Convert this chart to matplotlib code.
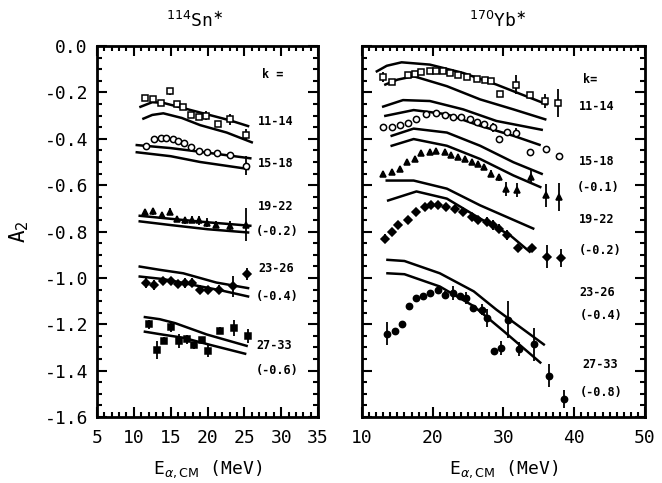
import numpy as np
import matplotlib.pyplot as plt
from matplotlib.ticker import MultipleLocator

plt.rcParams['font.family'] = ['DejaVu Sans Mono', 'DejaVu Sans']
plt.rcParams['axes.unicode_minus'] = False

# ---- 114Sn* (left panel) ----
sn_e_1 = [11.5, 12.6, 13.7, 14.9, 15.8, 16.7, 17.7, 18.8, 19.8, 21.4, 23.1, 25.2]
sn_a_1 = [-0.223, -0.227, -0.247, -0.194, -0.251, -0.261, -0.297, -0.304, -0.301, -0.337, -0.316, -0.384]
sn_d_1 = [0.01, 0.01, 0.01, 0.015, 0.01, 0.01, 0.01, 0.01, 0.02, 0.01, 0.025, 0.025]
sn_fa_e_1 = [10.9, 12.5, 14.0, 17.0, 20.0, 23.0, 25.5]
sn_fa_a_1 = [-0.262, -0.242, -0.245, -0.27, -0.295, -0.32, -0.345]
sn_fb_e_1 = [11.3, 12.5, 14.0, 16.5, 19.0, 22.6, 26.0]
sn_fb_a_1 = [-0.313, -0.297, -0.29, -0.31, -0.341, -0.373, -0.415]

sn_e_2 = [11.7, 12.8, 13.7, 14.4, 15.3, 16.0, 16.8, 17.7, 18.8, 19.9, 21.3, 23.0, 25.2]
sn_a_2 = [-0.43, -0.401, -0.398, -0.398, -0.40, -0.408, -0.418, -0.437, -0.451, -0.459, -0.462, -0.47, -0.516]
sn_d_2 = [0.01, 0.015, 0.01, 0.01, 0.01, 0.01, 0.01, 0.015, 0.01, 0.01, 0.01, 0.01, 0.04]
sn_fa_e_2 = [10.4, 15.0, 20.0, 25.8]
sn_fa_a_2 = [-0.427, -0.44, -0.46, -0.484]
sn_fb_e_2 = [10.4, 15.0, 19.0, 25.5]
sn_fb_a_2 = [-0.458, -0.475, -0.50, -0.53]

sn_e_3 = [11.5, 12.6, 13.8, 14.9, 15.9, 16.9, 17.9, 18.8, 19.9, 21.2, 23.0, 25.2]
sn_a_3 = [-0.715, -0.713, -0.727, -0.715, -0.744, -0.752, -0.75, -0.752, -0.761, -0.77, -0.775, -0.77]
sn_d_3 = [0.01, 0.015, 0.01, 0.015, 0.01, 0.015, 0.015, 0.02, 0.02, 0.015, 0.02, 0.07]
sn_fa_e_3 = [10.8, 15.0, 20.0, 25.8]
sn_fa_a_3 = [-0.732, -0.745, -0.76, -0.775]
sn_fb_e_3 = [10.8, 15.0, 20.0, 25.5]
sn_fb_a_3 = [-0.756, -0.772, -0.79, -0.804]

sn_e_4 = [11.7, 12.8, 14.0, 15.0, 16.0, 16.9, 17.9, 19.0, 20.1, 21.5, 23.5, 25.4]
sn_a_4 = [-1.022, -1.03, -1.015, -1.012, -1.027, -1.022, -1.02, -1.051, -1.051, -1.051, -1.037, -0.984]
sn_d_4 = [0.02, 0.02, 0.015, 0.015, 0.015, 0.02, 0.02, 0.02, 0.015, 0.02, 0.045, 0.025]
sn_fa_e_4 = [10.8, 13.5, 16.7, 21.2, 25.5]
sn_fa_a_4 = [-0.951, -0.965, -0.98, -1.02, -1.044]
sn_fb_e_4 = [10.8, 14.0, 18.0, 22.0, 25.5]
sn_fb_a_4 = [-0.994, -1.005, -1.03, -1.055, -1.08]

sn_e_5 = [12.0, 13.1, 14.1, 15.0, 16.1, 17.2, 18.1, 19.2, 20.1, 21.7, 23.6, 25.5]
sn_a_5 = [-1.20, -1.31, -1.27, -1.212, -1.273, -1.265, -1.29, -1.268, -1.315, -1.227, -1.215, -1.25]
sn_d_5 = [0.02, 0.04, 0.015, 0.02, 0.03, 0.02, 0.015, 0.015, 0.025, 0.015, 0.035, 0.03]
sn_fa_e_5 = [11.5, 13.5, 15.6, 19.9, 25.3]
sn_fa_a_5 = [-1.169, -1.178, -1.195, -1.244, -1.293]
sn_fb_e_5 = [11.5, 14.0, 16.7, 20.5, 25.1]
sn_fb_a_5 = [-1.232, -1.245, -1.258, -1.29, -1.327]

sn_labels = ['k =', '11-14', '15-18', '19-22', '(-0.2)', '23-26', '(-0.4)', '27-33', '(-0.6)']
sn_label_e = [28.9, 29.3, 29.3, 29.3, 29.5, 29.3, 29.5, 29.1, 29.5]
sn_label_a = [-0.123, -0.324, -0.508, -0.693, -0.80, -0.958, -1.078, -1.29, -1.40]

# ---- 170Yb* (right panel) ----
yb_e_1 = [13.0, 14.2, 16.5, 17.5, 18.4, 19.6, 20.5, 21.5, 22.4, 23.6, 24.8, 26.2, 27.4, 28.3, 29.5, 31.8, 33.7, 35.9, 37.7]
yb_a_1 = [-0.133, -0.156, -0.123, -0.119, -0.113, -0.109, -0.109, -0.109, -0.116, -0.123, -0.133, -0.144, -0.147, -0.152, -0.206, -0.166, -0.209, -0.237, -0.244]
yb_d_1 = [0.02, 0.01, 0.01, 0.01, 0.01, 0.01, 0.01, 0.01, 0.01, 0.015, 0.01, 0.01, 0.01, 0.01, 0.01, 0.04, 0.01, 0.03, 0.06]
yb_fa_e_1 = [12.1, 13.5, 15.6, 19.6, 24.3, 29.0, 36.1]
yb_fa_a_1 = [-0.109, -0.085, -0.07, -0.08, -0.116, -0.166, -0.251]
yb_fb_e_1 = [13.3, 15.0, 17.3, 22.0, 26.7, 31.4, 35.9]
yb_fb_a_1 = [-0.166, -0.145, -0.13, -0.173, -0.23, -0.273, -0.316]

yb_e_2 = [13.0, 14.2, 15.4, 16.5, 17.7, 19.1, 20.5, 21.7, 22.9, 24.0, 25.2, 26.3, 27.3, 28.5, 29.4, 30.5, 31.8, 33.8, 36.0, 37.9]
yb_a_2 = [-0.351, -0.351, -0.341, -0.332, -0.316, -0.294, -0.29, -0.298, -0.304, -0.308, -0.316, -0.327, -0.337, -0.351, -0.401, -0.37, -0.373, -0.458, -0.444, -0.473]
yb_d_2 = [0.01, 0.01, 0.01, 0.01, 0.01, 0.01, 0.01, 0.01, 0.01, 0.01, 0.01, 0.01, 0.015, 0.02, 0.01, 0.01, 0.02, 0.01, 0.01, 0.01]
yb_fa_e_2 = [13.0, 15.8, 19.6, 24.3, 29.0, 35.4]
yb_fa_a_2 = [-0.261, -0.233, -0.237, -0.273, -0.323, -0.361]
yb_fb_e_2 = [13.3, 17.3, 22.0, 26.7, 31.4, 35.1]
yb_fb_a_2 = [-0.301, -0.276, -0.294, -0.344, -0.387, -0.426]

yb_e_3 = [13.0, 14.2, 15.4, 16.3, 17.5, 18.4, 19.6, 20.5, 21.7, 22.6, 23.6, 24.5, 25.5, 26.4, 27.3, 28.3, 29.4, 30.4, 31.9, 33.9, 36.0, 37.9]
yb_a_3 = [-0.551, -0.544, -0.53, -0.501, -0.487, -0.461, -0.456, -0.451, -0.458, -0.47, -0.48, -0.487, -0.501, -0.508, -0.523, -0.551, -0.565, -0.615, -0.622, -0.565, -0.644, -0.651]
yb_d_3 = [0.01, 0.01, 0.01, 0.01, 0.01, 0.01, 0.01, 0.01, 0.01, 0.01, 0.01, 0.01, 0.01, 0.01, 0.01, 0.015, 0.015, 0.03, 0.03, 0.03, 0.05, 0.06]
yb_fa_e_3 = [14.2, 17.3, 22.0, 26.7, 31.4, 35.4]
yb_fa_a_3 = [-0.387, -0.356, -0.373, -0.43, -0.501, -0.551]
yb_fb_e_3 = [14.2, 17.3, 22.0, 26.7, 31.4, 35.2]
yb_fb_a_3 = [-0.43, -0.401, -0.43, -0.487, -0.558, -0.608]

yb_e_4 = [13.3, 14.2, 15.1, 16.5, 17.7, 18.9, 19.8, 20.7, 21.9, 23.1, 24.3, 25.5, 26.4, 27.6, 28.5, 29.4, 30.5, 32.1, 34.0, 36.2, 38.1]
yb_a_4 = [-0.83, -0.801, -0.772, -0.751, -0.715, -0.694, -0.687, -0.684, -0.694, -0.701, -0.715, -0.737, -0.751, -0.758, -0.772, -0.787, -0.815, -0.869, -0.872, -0.908, -0.915]
yb_d_4 = [0.02, 0.01, 0.01, 0.01, 0.01, 0.01, 0.01, 0.01, 0.01, 0.01, 0.015, 0.01, 0.01, 0.02, 0.02, 0.02, 0.02, 0.01, 0.01, 0.05, 0.04]
yb_fa_e_4 = [13.5, 17.3, 22.0, 26.7, 34.2]
yb_fa_a_4 = [-0.58, -0.58, -0.615, -0.687, -0.787]
yb_fb_e_4 = [13.7, 17.7, 22.0, 26.7, 30.9, 33.7]
yb_fb_a_4 = [-0.666, -0.627, -0.658, -0.744, -0.815, -0.887]

yb_e_5 = [13.5, 14.6, 15.6, 16.6, 17.6, 18.6, 19.6, 20.7, 21.7, 22.9, 23.9, 24.7, 25.7, 26.9, 27.7, 28.7, 29.7, 30.7, 32.2, 34.3, 36.4, 38.5]
yb_a_5 = [-1.241, -1.229, -1.20, -1.122, -1.087, -1.08, -1.065, -1.051, -1.072, -1.065, -1.079, -1.087, -1.129, -1.137, -1.172, -1.315, -1.301, -1.18, -1.308, -1.287, -1.422, -1.522]
yb_d_5 = [0.05, 0.01, 0.015, 0.01, 0.01, 0.01, 0.01, 0.01, 0.015, 0.03, 0.01, 0.025, 0.01, 0.025, 0.04, 0.01, 0.03, 0.08, 0.03, 0.07, 0.05, 0.04]
yb_fa_e_5 = [13.6, 16.0, 21.0, 25.8, 29.0, 35.7]
yb_fa_a_5 = [-0.922, -0.927, -0.98, -1.058, -1.137, -1.287]
yb_fb_e_5 = [13.6, 16.0, 21.0, 25.8, 30.0, 35.2]
yb_fb_a_5 = [-0.98, -0.984, -1.037, -1.122, -1.229, -1.365]

yb_labels = ['k=', '11-14', '15-18', '(-0.1)', '19-22', '(-0.2)', '23-26', '(-0.4)', '27-33', '(-0.8)']
yb_label_e = [42.2, 43.2, 43.2, 43.4, 43.2, 43.6, 43.3, 43.8, 43.6, 43.8]
yb_label_a = [-0.144, -0.26, -0.50, -0.61, -0.75, -0.88, -1.065, -1.16, -1.373, -1.495]


def style_axes(ax, xlim, xmajor):
    ax.set_xlim(*xlim)
    ax.set_ylim(-1.6, 0.0)
    ax.xaxis.set_major_locator(MultipleLocator(xmajor))
    ax.xaxis.set_minor_locator(MultipleLocator(1))
    ax.yaxis.set_major_locator(MultipleLocator(0.2))
    ax.yaxis.set_minor_locator(MultipleLocator(0.05))
    ax.tick_params(which='both', direction='in', top=True, right=True, width=1.5, labelsize=13)
    ax.tick_params(which='major', length=7)
    ax.tick_params(which='minor', length=3.5)
    ax.tick_params(axis='x', which='major', pad=8.5)
    ax.tick_params(axis='y', which='major', pad=6.5)
    for sp in ax.spines.values():
        sp.set_linewidth(2)
    ax.set_xlabel(r'E$_{\alpha,\mathrm{CM}}$ (MeV)', fontsize=13, labelpad=8)


def draw_group(ax, e, a, d, fa_e, fa_a, fb_e, fb_a, marker, fill):
    ax.plot(fa_e, fa_a, color='black', lw=1.8)
    ax.plot(fb_e, fb_a, color='black', lw=1.8)
    ax.errorbar(e, a, yerr=d, fmt=marker, color='black', ms=4.5, mew=1.1,
                mfc='black' if fill else 'white', elinewidth=1.3, capsize=0)


fig = plt.figure(figsize=(6.62, 4.83), dpi=100)

ax1 = fig.add_axes([0.1465, 0.1366, 0.334, 0.768])
style_axes(ax1, (5, 35), 5)
draw_group(ax1, sn_e_1, sn_a_1, sn_d_1, sn_fa_e_1, sn_fa_a_1, sn_fb_e_1, sn_fb_a_1, 's', False)
draw_group(ax1, sn_e_2, sn_a_2, sn_d_2, sn_fa_e_2, sn_fa_a_2, sn_fb_e_2, sn_fb_a_2, 'o', False)
draw_group(ax1, sn_e_3, sn_a_3, sn_d_3, sn_fa_e_3, sn_fa_a_3, sn_fb_e_3, sn_fb_a_3, '^', True)
draw_group(ax1, sn_e_4, sn_a_4, sn_d_4, sn_fa_e_4, sn_fa_a_4, sn_fb_e_4, sn_fb_a_4, 'D', True)
draw_group(ax1, sn_e_5, sn_a_5, sn_d_5, sn_fa_e_5, sn_fa_a_5, sn_fb_e_5, sn_fb_a_5, 's', True)
for t, x, y in zip(sn_labels, sn_label_e, sn_label_a):
    ax1.text(x, y, t, fontsize=8.5, fontweight='bold', ha='center', va='center')
ax1.set_ylabel(r'A$_2$', fontsize=15, labelpad=10)
ax1.set_title(r'$^{114}$Sn$^{\ast}$', fontsize=13, pad=14, x=0.44)

ax2 = fig.add_axes([0.5468, 0.1366, 0.4275, 0.768])
style_axes(ax2, (10, 50), 10)
ax2.set_yticklabels([])
draw_group(ax2, yb_e_1, yb_a_1, yb_d_1, yb_fa_e_1, yb_fa_a_1, yb_fb_e_1, yb_fb_a_1, 's', False)
draw_group(ax2, yb_e_2, yb_a_2, yb_d_2, yb_fa_e_2, yb_fa_a_2, yb_fb_e_2, yb_fb_a_2, 'o', False)
draw_group(ax2, yb_e_3, yb_a_3, yb_d_3, yb_fa_e_3, yb_fa_a_3, yb_fb_e_3, yb_fb_a_3, '^', True)
draw_group(ax2, yb_e_4, yb_a_4, yb_d_4, yb_fa_e_4, yb_fa_a_4, yb_fb_e_4, yb_fb_a_4, 'D', True)
draw_group(ax2, yb_e_5, yb_a_5, yb_d_5, yb_fa_e_5, yb_fa_a_5, yb_fb_e_5, yb_fb_a_5, 'o', True)
for t, x, y in zip(yb_labels, yb_label_e, yb_label_a):
    ax2.text(x, y, t, fontsize=8.5, fontweight='bold', ha='center', va='center')
ax2.set_title(r'$^{170}$Yb$^{\ast}$', fontsize=13, pad=14, x=0.48)

fig.savefig('out.png', dpi=100)
